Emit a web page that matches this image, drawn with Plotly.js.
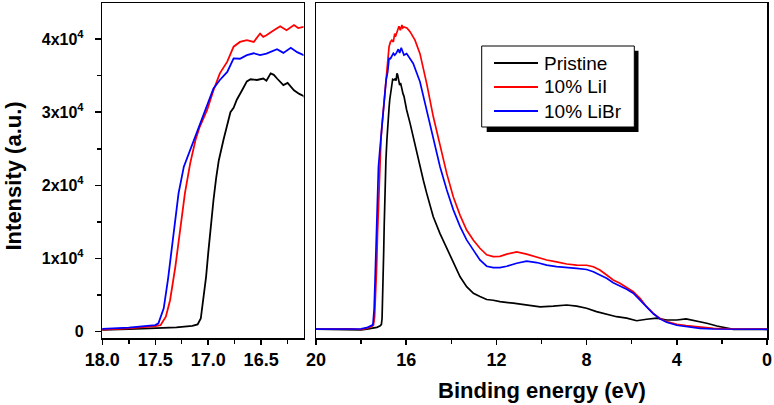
<!DOCTYPE html>
<html>
<head>
<meta charset="utf-8">
<script src="https://cdn.plot.ly/plotly-3.0.1.min.js"></script>
<style>html,body{margin:0;padding:0;background:#fff}#chart{width:774px;height:405px}</style>
</head>
<body>
<div id="chart"></div>
<script>
// ---- data (binding energy in eV, intensity in counts) ----
var seriesNames = ["Pristine", "10% LiI", "10% LiBr"];
var seriesColors = ["#000000", "#ff0000", "#0000ff"];

var pristineE = [20, 19, 18.5, 18, 17.75, 17.5, 17.3, 17.15, 17.1, 17.07, 17.045, 17.02, 17.0, 16.975, 16.95, 16.925, 16.9, 16.856, 16.82, 16.79, 16.76, 16.73, 16.68, 16.635, 16.6, 16.54, 16.48, 16.45, 16.41, 16.38, 16.35, 16.32, 16.29, 16.25, 16.19, 16.14, 16.1, 15.98, 15.83, 15.69, 15.54, 15.39, 15.24, 15.09, 14.95, 14.8, 14.5, 14.2, 13.91, 13.61, 13.32, 13.02, 12.73, 12.43, 12.14, 11.84, 11.25, 10.66, 10.06, 9.48, 8.88, 8.44, 8.0, 7.56, 7.11, 6.67, 6.22, 5.78, 5.34, 4.89, 4.45, 4.0, 3.59, 3.15, 2.67, 2.22, 1.78, 1.49, 1.0, 0];
var pristineI = [350, 330, 300, 250, 350, 480, 600, 800, 1000, 1800, 4300, 7500, 10700, 14500, 18000, 21000, 23400, 26200, 28500, 30000, 30600, 31700, 33000, 34200, 34500, 34400, 34600, 34300, 35300, 35100, 34600, 34200, 33700, 34000, 33000, 32500, 32200, 30300, 28500, 26600, 24600, 22500, 20700, 18900, 17200, 15700, 13400, 11400, 9300, 7500, 6150, 5250, 4800, 4400, 4300, 4100, 3900, 3650, 3400, 3500, 3650, 3500, 3200, 2750, 2350, 2050, 1850, 1500, 1700, 1850, 1600, 1600, 1750, 1500, 1150, 780, 460, 320, 320, 320];

var liiE = [20, 19, 18.5, 18, 17.75, 17.5, 17.45, 17.4, 17.36, 17.31, 17.27, 17.22, 17.17, 17.12, 17.08, 17.01, 16.95, 16.89, 16.82, 16.76, 16.70, 16.635, 16.57, 16.51, 16.48, 16.45, 16.38, 16.32, 16.26, 16.19, 16.15, 16.1, 15.97, 15.83, 15.61, 15.39, 15.09, 14.8, 14.5, 14.2, 13.91, 13.61, 13.32, 13.02, 12.73, 12.43, 12.14, 11.84, 11.54, 11.1, 10.66, 10.21, 9.77, 9.33, 8.88, 8.44, 8.0, 7.7, 7.41, 7.11, 6.82, 6.52, 6.22, 5.93, 5.63, 5.34, 5.04, 4.75, 4.45, 4.0, 3.59, 2.97, 2.38, 1.49, 0];
var liiI = [360, 380, 400, 300, 450, 780, 900, 2050, 4300, 8900, 13450, 18900, 23000, 26200, 28000, 30300, 33000, 35300, 36900, 38950, 39600, 39850, 39600, 40750, 40300, 40500, 41200, 41750, 41200, 41900, 41500, 41650, 41500, 41000, 39850, 38000, 33900, 29400, 25300, 21600, 18400, 15900, 13900, 12500, 11400, 10500, 10250, 10300, 10600, 10900, 10600, 10150, 9800, 9550, 9250, 9100, 9080, 8880, 8430, 7750, 7060, 6610, 6060, 5460, 4560, 3420, 2510, 1830, 1370, 1010, 820, 600, 460, 370, 370];

var librE = [20, 19, 18.5, 18, 17.75, 17.5, 17.47, 17.42, 17.38, 17.33, 17.28, 17.23, 17.17, 17.12, 17.08, 17.01, 16.95, 16.89, 16.82, 16.76, 16.70, 16.635, 16.57, 16.51, 16.45, 16.35, 16.29, 16.22, 16.16, 16.1, 15.98, 15.69, 15.39, 15.09, 14.8, 14.5, 14.2, 13.91, 13.61, 13.32, 13.02, 12.73, 12.43, 12.14, 11.84, 11.54, 11.1, 10.66, 10.21, 9.77, 9.33, 8.88, 8.44, 8.0, 7.7, 7.41, 7.11, 6.82, 6.52, 6.22, 5.93, 5.63, 5.34, 5.04, 4.75, 4.45, 4.0, 3.59, 2.97, 2.38, 1.49, 0];
var librI = [360, 380, 420, 380, 550, 900, 1150, 3200, 7100, 13450, 18900, 22550, 24800, 26650, 28250, 30750, 33250, 34400, 35500, 37350, 37300, 37800, 38050, 37800, 38000, 38600, 38100, 38800, 38200, 37800, 38000, 36650, 34150, 30300, 26200, 22550, 19350, 16650, 14350, 12550, 11150, 9800, 8950, 8750, 8750, 8950, 9350, 9650, 9450, 9100, 8900, 8800, 8650, 8500, 8200, 7750, 7300, 6700, 6250, 5800, 5250, 4350, 3350, 2450, 1750, 1300, 880, 700, 460, 370, 330, 330];

var yTickVals = [0, 10000, 20000, 30000, 40000];
var yTickText = ["0", "1x10<sup>4</sup>", "2x10<sup>4</sup>", "3x10<sup>4</sup>", "4x10<sup>4</sup>"];
var yTitle = "Intensity (a.u.)";
var xTitle = "Binding energy (eV)";

// ---- layout helpers ----
var W = 774, H = 405;
function px(x) { return x / W; }
function py(y) { return 1 - y / H; }

var allE = [pristineE, liiE, librE];
var allI = [pristineI, liiI, librI];

var traces = [];
for (var k = 0; k < 3; k++) {
  traces.push({x: allE[k], y: allI[k], type: "scatter", mode: "lines", name: seriesNames[k],
    xaxis: "x", yaxis: "y", line: {color: seriesColors[k], width: 1.8}, showlegend: false, hoverinfo: "skip"});
}
for (var k = 0; k < 3; k++) {
  traces.push({x: allE[k], y: allI[k], type: "scatter", mode: "lines", name: seriesNames[k],
    xaxis: "x2", yaxis: "y2", line: {color: seriesColors[k], width: 1.7}, showlegend: false, hoverinfo: "skip"});
}

var FAM = "Liberation Sans, Arial, sans-serif";
var xTickFont = {family: FAM, size: 18, weight: "bold", color: "#000"};
var yTickFont = {family: FAM, size: 16, weight: "bold", color: "#000"};
var yRange = [-861, 44919];
var yDom = [py(338), py(3)];

var layout = {
  width: W, height: H,
  margin: {l: 0, r: 0, t: 0, b: 0},
  paper_bgcolor: "#fff", plot_bgcolor: "#fff",
  xaxis: {domain: [px(102.3), px(303.5)], range: [18, 16.1], anchor: "y",
    showline: true, mirror: true, linecolor: "#000", linewidth: 1.5,
    ticks: "outside", ticklen: 5, tickwidth: 1.5, tickcolor: "#000",
    dtick: 0.5, tick0: 18, tickformat: ".1f", tickfont: xTickFont,
    minor: {dtick: 0.25, ticks: "outside", ticklen: 4, tickwidth: 1.5, tickcolor: "#000", showgrid: false},
    showgrid: false, zeroline: false},
  yaxis: {domain: yDom, range: yRange, anchor: "x",
    showline: true, mirror: true, linecolor: "#000", linewidth: 1.5,
    ticks: "outside", ticklen: 6, tickwidth: 1.5, tickcolor: "#000",
    tickmode: "array", tickvals: yTickVals, ticktext: yTickText, tickfont: yTickFont,
    ticklabelstandoff: 8,
    minor: {dtick: 5000, tick0: 0, ticks: "outside", ticklen: 4, tickwidth: 1.5, tickcolor: "#000", showgrid: false},
    showgrid: false, zeroline: false},
  xaxis2: {domain: [px(316), px(767)], range: [20, 0], anchor: "y2",
    showline: true, mirror: true, linecolor: "#000", linewidth: 1.5,
    ticks: "outside", ticklen: 5, tickwidth: 1.5, tickcolor: "#000",
    dtick: 4, tick0: 0, tickfont: xTickFont,
    minor: {dtick: 2, ticks: "outside", ticklen: 4, tickwidth: 1.5, tickcolor: "#000", showgrid: false},
    showgrid: false, zeroline: false},
  yaxis2: {domain: yDom, range: yRange, anchor: "x2",
    showline: true, mirror: true, linecolor: "#000", linewidth: 1.5,
    ticks: "", showticklabels: false, showgrid: false, zeroline: false},
  shapes: [
    {type: "rect", xref: "paper", yref: "paper", x0: px(486.7), x1: px(638.5), y0: py(132), y1: py(50.7),
      fillcolor: "#000", line: {width: 0}, layer: "above"},
    {type: "rect", xref: "paper", yref: "paper", x0: px(481.7), x1: px(634.3), y0: py(127), y1: py(46),
      fillcolor: "#fff", line: {color: "#000", width: 1}, layer: "above"}
  ],
  annotations: [
    {text: yTitle, xref: "paper", yref: "paper", x: px(13), y: py(176.5), xanchor: "center", yanchor: "middle",
      textangle: -90, showarrow: false, font: {family: FAM, size: 22, weight: "bold", color: "#000"}},
    {text: xTitle, xref: "paper", yref: "paper", x: px(542), y: py(390), xanchor: "center", yanchor: "middle",
      showarrow: false, font: {family: FAM, size: 22, weight: "bold", color: "#000"}}
  ]
};

// legend box drawn in layout: line samples + series names
var legendRows = [63, 87, 111];
for (var k = 0; k < 3; k++) {
  layout.shapes.push({type: "line", xref: "paper", yref: "paper", x0: px(494), x1: px(538),
    y0: py(legendRows[k]), y1: py(legendRows[k]), line: {color: seriesColors[k], width: 2}, layer: "above"});
  layout.annotations.push({text: seriesNames[k], xref: "paper", yref: "paper", x: px(542), y: py(legendRows[k]),
    xanchor: "left", yanchor: "middle", showarrow: false,
    font: {family: FAM, size: 19, color: "#000"}});
}

Plotly.newPlot("chart", traces, layout, {staticPlot: true, displayModeBar: false});
</script>
</body>
</html>
